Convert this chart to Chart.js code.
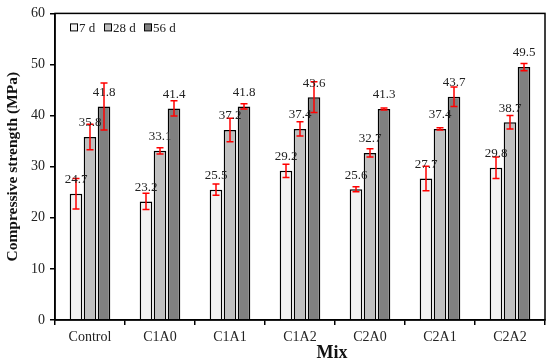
<!DOCTYPE html>
<html>
<head>
<meta charset="utf-8">
<script src="https://cdn.jsdelivr.net/npm/chart.js@4"></script>
<style>
  html, body { margin: 0; padding: 0; background: #fff; }
  #wrap { width: 550px; height: 363px; }
</style>
</head>
<body>
<div id="wrap"><canvas id="grafico" width="550" height="363"></canvas></div>
<script>
const misturas = ['Control', 'C1A0', 'C1A1', 'C1A2', 'C2A0', 'C2A1', 'C2A2'];
const idades = ['7 d', '28 d', '56 d'];
const r7 = [24.7, 23.2, 25.5, 29.2, 25.6, 27.7, 29.8];
const r28 = [35.8, 33.1, 37.2, 37.4, 32.7, 37.4, 38.7];
const r56 = [41.8, 41.4, 41.8, 43.6, 41.3, 43.7, 49.5];
const erro7 = [3.0, 1.6, 1.1, 1.3, 0.5, 2.4, 2.1];
const erro28 = [2.5, 0.6, 2.3, 1.4, 0.8, 0.2, 1.3];
const erro56 = [4.6, 1.5, 0.5, 3.0, 0.2, 1.9, 0.7];
const yTicks = [0, 10, 20, 30, 40, 50, 60];

const cores = ['#f2f2f2', '#bfbfbf', '#808080'];
const fonte = '"Liberation Serif", "Times New Roman", serif';

// barras de erro, rótulos, legenda e moldura
const extras = {
  id: 'extras',
  afterDatasetsDraw(chart) {
    const ctx = chart.ctx;
    const y = chart.scales.y;
    const erros = [erro7, erro28, erro56];
    ctx.save();
    chart.data.datasets.forEach((ds, i) => {
      const meta = chart.getDatasetMeta(i);
      meta.data.forEach((bar, j) => {
        const v = ds.data[j];
        const e = erros[i][j];
        const yt = y.getPixelForValue(v + e);
        const yb = y.getPixelForValue(v - e);
        ctx.strokeStyle = '#ff0000';
        ctx.lineWidth = 1.5;
        ctx.beginPath();
        ctx.moveTo(bar.x, yt); ctx.lineTo(bar.x, yb);
        ctx.moveTo(bar.x - 3.5, yt); ctx.lineTo(bar.x + 3.5, yt);
        ctx.moveTo(bar.x - 3.5, yb); ctx.lineTo(bar.x + 3.5, yb);
        ctx.stroke();
      });
    });
    ctx.fillStyle = '#222';
    ctx.font = '13px ' + fonte;
    ctx.textAlign = 'center';
    ctx.textBaseline = 'middle';
    chart.data.datasets.forEach((ds, i) => {
      const meta = chart.getDatasetMeta(i);
      meta.data.forEach((bar, j) => {
        ctx.fillText(ds.data[j].toFixed(1), bar.x, bar.y - 14);
      });
    });

    // legenda
    const a = chart.chartArea;
    let lx = a.left + 15;
    const ly = a.top + 14;
    ctx.textAlign = 'left';
    chart.data.datasets.forEach((ds, i) => {
      ctx.fillStyle = ds.backgroundColor;
      ctx.strokeStyle = '#000';
      ctx.lineWidth = 1;
      ctx.fillRect(lx + 0.5, ly - 3.5, 7, 7);
      ctx.strokeRect(lx + 0.5, ly - 3.5, 7, 7);
      ctx.fillStyle = '#222';
      ctx.fillText(ds.label, lx + 9, ly + 1);
      lx += i === 0 ? 34 : 40;
    });

    ctx.strokeStyle = '#000';
    ctx.lineWidth = 1.5;
    ctx.strokeRect(a.left, a.top, a.right - a.left, a.bottom - a.top);

    // título do eixo x
    ctx.fillStyle = '#111';
    ctx.font = 'bold 18px ' + fonte;
    ctx.textAlign = 'center';
    ctx.fillText('Mix', 332, 353);
    ctx.restore();
  }
};

new Chart(document.getElementById('grafico'), {
  type: 'bar',
  data: {
    labels: misturas,
    datasets: [
      { label: idades[0], data: r7, backgroundColor: cores[0] },
      { label: idades[1], data: r28, backgroundColor: cores[1] },
      { label: idades[2], data: r56, backgroundColor: cores[2] }
    ]
  },
  options: {
    responsive: false,
    animation: false,
    layout: { padding: { top: 10, right: 5, left: 0, bottom: 0 } },
    datasets: {
      bar: {
        borderColor: '#000',
        borderWidth: 1.5,
        categoryPercentage: 0.6,
        barPercentage: 0.9
      }
    },
    plugins: {
      legend: { display: false },
      tooltip: { enabled: false }
    },
    scales: {
      x: {
        grid: { drawOnChartArea: false, tickLength: 5, color: '#000', lineWidth: 1.5 },
        border: { color: '#000', width: 1.5 },
        ticks: { color: '#222', font: { family: fonte, size: 14 }, padding: 4 },
        afterFit(scale) { scale.height = 43; }
      },
      y: {
        min: 0,
        max: 60,
        afterBuildTicks(scale) { scale.ticks = yTicks.map(v => ({ value: v })); },
        grid: { drawOnChartArea: false, tickLength: 5, color: '#000', lineWidth: 1.5 },
        border: { color: '#000', width: 1.5 },
        ticks: { color: '#222', font: { family: fonte, size: 14 }, padding: 5 },
        title: { display: true, text: 'Compressive strength (MPa)', color: '#111', font: { family: fonte, size: 15.5, weight: 'bold' }, padding: { top: 4, bottom: 2 } },
        afterFit(scale) { scale.width = 55; }
      }
    }
  },
  plugins: [extras]
});
</script>
</body>
</html>
